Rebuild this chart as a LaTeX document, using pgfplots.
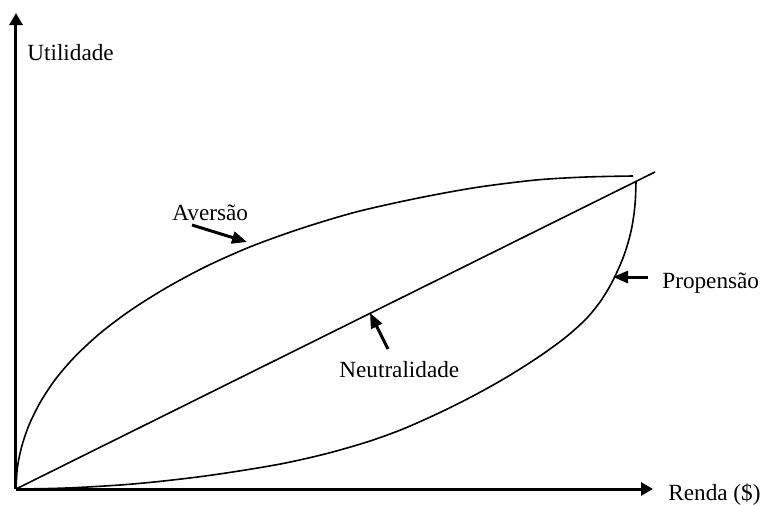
\documentclass[border=0pt]{standalone}
\usepackage{fontspec}
\setmainfont{Liberation Serif}
\usepackage{pgfplots}
\pgfplotsset{compat=1.18}
\usetikzlibrary{arrows.meta}
\begin{document}
\begin{tikzpicture}[font=\fontsize{11.6}{14}\selectfont]
\begin{axis}[
  x=0.5pt, y=0.5pt,
  xmin=0, xmax=637, ymin=0, ymax=476,
  enlargelimits=false,
  axis lines=left,
  axis line style={line width=1.5pt, -{Triangle[length=6pt,width=6.5pt]}},
  xtick=\empty, ytick=\empty,
  clip=false,
]
% invisible frame to match the reference's margins
\path (axis cs:-16,-13) rectangle (axis cs:746,489);

% Aversao (concave)
\addplot[black, line width=0.8pt, smooth] coordinates {
(0,0) (1,17.8) (3,30.8) (6,43.5) (10,56) (15,68.5) (25,88) (40,110.5)
(60,133.5) (85,156.5) (115,179) (150,201) (190,222.5) (235,242.5)
(285,260.5) (340,277) (400,290.5) (460,301.5) (520,309) (570,312) (617,313)};

% Neutralidade (line)
\addplot[black, line width=0.8pt] coordinates {(0,0) (639,317)};

% Propensao (convex)
\addplot[black, line width=0.8pt, smooth] coordinates {
(0,0) (30,0.4) (60,1.4) (104,4) (140,7.2) (184,12.3) (225,18.3) (267,25.5)
(309,35) (351,47) (387,60) (424,76.5) (457,93) (491,112) (524,133)
(550,152) (570,170) (584,187) (594,203) (601,217) (607,231) (612,246)
(615.5,260) (618,275) (619.4,290) (620,307)};

% annotation arrows
\addplot[black, line width=1.5pt, -{Triangle[length=7.5pt,width=6pt]}] coordinates {(176,264) (231,247)};
\addplot[black, line width=1.5pt, -{Triangle[length=7.5pt,width=6pt]}] coordinates {(372,140) (354,176)};
\addplot[black, line width=1.5pt, -{Triangle[length=7.5pt,width=6pt]}] coordinates {(632,212) (597,212)};

% labels
\node[anchor=base west, inner sep=0pt] at (axis cs:11,429) {Utilidade};
\node[anchor=base west, inner sep=0pt] at (axis cs:652,-11) {Renda (\$)};
\node[anchor=base west, inner sep=0pt] at (axis cs:646,201) {Propensão};
\node[anchor=base west, inner sep=0pt] at (axis cs:156,269) {Aversão};
\node[anchor=base west, inner sep=0pt] at (axis cs:323,112) {Neutralidade};
\end{axis}
\end{tikzpicture}
\end{document}
